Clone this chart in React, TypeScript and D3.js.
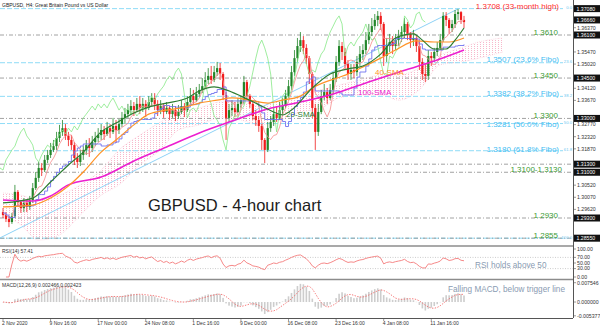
import React from "react";
import * as d3 from "d3";

// ---------- DATA ----------
const firstOpen = 1.2952;
const closes = [
  1.2941, 1.2926, 1.2915, 1.2937, 1.3027, 1.2989, 1.2967, 1.2986, 1.2971, 1.2997,
  1.3041, 1.3079, 1.3116, 1.3108, 1.3146, 1.3164, 1.3183, 1.3197, 1.3227, 1.3250,
  1.3264, 1.3235, 1.3220, 1.3201, 1.3153, 1.3138, 1.3164, 1.3183, 1.3201, 1.3190,
  1.3212, 1.3227, 1.3238, 1.3257, 1.3242, 1.3264, 1.3250, 1.3272, 1.3257, 1.3279,
  1.3302, 1.3316, 1.3331, 1.3346, 1.3331, 1.3354, 1.3339, 1.3354, 1.3339, 1.3361,
  1.3376, 1.3354, 1.3331, 1.3346, 1.3324, 1.3339, 1.3316, 1.3331, 1.3309, 1.3324,
  1.3346, 1.3331, 1.3361, 1.3383, 1.3368, 1.3391, 1.3406, 1.3420, 1.3443, 1.3458,
  1.3443, 1.3472, 1.3487, 1.3465, 1.3387, 1.3302, 1.3331, 1.3339, 1.3324, 1.3354,
  1.3368, 1.3435, 1.3383, 1.3354, 1.3309, 1.3294, 1.3272, 1.3220, 1.3183, 1.3264,
  1.3287, 1.3316, 1.3302, 1.3331, 1.3346, 1.3383, 1.3420, 1.3472, 1.3524, 1.3569,
  1.3591, 1.3562, 1.3524, 1.3465, 1.3339, 1.3250, 1.3324, 1.3383, 1.3398, 1.3376,
  1.3406, 1.3450, 1.3510, 1.3569, 1.3547, 1.3502, 1.3465, 1.3480, 1.3472, 1.3510,
  1.3539, 1.3554, 1.3591, 1.3621, 1.3643, 1.3666, 1.3681, 1.3651, 1.3532, 1.3569,
  1.3584, 1.3569, 1.3591, 1.3606, 1.3621, 1.3651, 1.3614, 1.3591, 1.3599, 1.3569,
  1.3510, 1.3465, 1.3458, 1.3532, 1.3524, 1.3547, 1.3562, 1.3591, 1.3681, 1.3666,
  1.3636, 1.3651, 1.3688, 1.3695, 1.3666, 1.3658,
];
const highs = [
  1.2967, 1.2952, 1.2937, 1.2949, 1.3053, 1.3034, 1.2997, 1.3004, 1.2997, 1.3012,
  1.3060, 1.3101, 1.3138, 1.3134, 1.3164, 1.3183, 1.3209, 1.3220, 1.3250, 1.3276,
  1.3294, 1.3279, 1.3250, 1.3238, 1.3212, 1.3171, 1.3183, 1.3197, 1.3220, 1.3227,
  1.3235, 1.3250, 1.3264, 1.3279, 1.3272, 1.3287, 1.3279, 1.3302, 1.3294, 1.3298,
  1.3324, 1.3339, 1.3354, 1.3368, 1.3361, 1.3376, 1.3383, 1.3376, 1.3368, 1.3383,
  1.3394, 1.3394, 1.3368, 1.3368, 1.3354, 1.3361, 1.3346, 1.3354, 1.3346, 1.3350,
  1.3368, 1.3357, 1.3383, 1.3413, 1.3406, 1.3417, 1.3428, 1.3450, 1.3472, 1.3487,
  1.3495, 1.3495, 1.3510, 1.3506, 1.3472, 1.3398, 1.3354, 1.3368, 1.3361, 1.3376,
  1.3383, 1.3458, 1.3443, 1.3391, 1.3361, 1.3331, 1.3309, 1.3279, 1.3227, 1.3287,
  1.3309, 1.3339, 1.3346, 1.3361, 1.3376, 1.3406, 1.3443, 1.3495, 1.3554, 1.3599,
  1.3621, 1.3606, 1.3576, 1.3532, 1.3472, 1.3354, 1.3354, 1.3406, 1.3428, 1.3413,
  1.3428, 1.3472, 1.3532, 1.3591, 1.3584, 1.3562, 1.3517, 1.3502, 1.3502, 1.3532,
  1.3569, 1.3576, 1.3621, 1.3651, 1.3673, 1.3688, 1.3699, 1.3695, 1.3658, 1.3599,
  1.3614, 1.3606, 1.3614, 1.3629, 1.3643, 1.3673, 1.3658, 1.3621, 1.3629, 1.3606,
  1.3584, 1.3524, 1.3502, 1.3554, 1.3547, 1.3562, 1.3584, 1.3614, 1.3695, 1.3695,
  1.3673, 1.3666, 1.3703, 1.3707, 1.3699, 1.3681,
];
const lows = [
  1.2930, 1.2915, 1.2896, 1.2908, 1.2930, 1.2975, 1.2949, 1.2952, 1.2952, 1.2960,
  1.2986, 1.3034, 1.3064, 1.3086, 1.3101, 1.3134, 1.3153, 1.3175, 1.3183, 1.3212,
  1.3235, 1.3220, 1.3197, 1.3183, 1.3127, 1.3116, 1.3123, 1.3146, 1.3164, 1.3157,
  1.3175, 1.3197, 1.3212, 1.3220, 1.3220, 1.3235, 1.3227, 1.3242, 1.3209, 1.3242,
  1.3268, 1.3279, 1.3302, 1.3316, 1.3309, 1.3324, 1.3316, 1.3324, 1.3305, 1.3331,
  1.3346, 1.3331, 1.3309, 1.3316, 1.3302, 1.3316, 1.3294, 1.3302, 1.3290, 1.3298,
  1.3316, 1.3305, 1.3324, 1.3354, 1.3354, 1.3361, 1.3380, 1.3394, 1.3413, 1.3428,
  1.3428, 1.3435, 1.3458, 1.3443, 1.3368, 1.3220, 1.3287, 1.3309, 1.3305, 1.3320,
  1.3339, 1.3354, 1.3368, 1.3339, 1.3294, 1.3272, 1.3250, 1.3183, 1.3134, 1.3175,
  1.3250, 1.3272, 1.3287, 1.3294, 1.3316, 1.3339, 1.3376, 1.3406, 1.3458, 1.3510,
  1.3547, 1.3539, 1.3502, 1.3428, 1.3302, 1.3183, 1.3235, 1.3316, 1.3368, 1.3354,
  1.3368, 1.3391, 1.3435, 1.3495, 1.3517, 1.3480, 1.3443, 1.3443, 1.3450, 1.3458,
  1.3495, 1.3517, 1.3539, 1.3576, 1.3606, 1.3629, 1.3643, 1.3629, 1.3495, 1.3510,
  1.3547, 1.3539, 1.3554, 1.3569, 1.3584, 1.3599, 1.3591, 1.3562, 1.3569, 1.3547,
  1.3480, 1.3443, 1.3435, 1.3443, 1.3495, 1.3510, 1.3532, 1.3554, 1.3584, 1.3643,
  1.3614, 1.3621, 1.3636, 1.3666, 1.3651, 1.3636,
];

// moving averages: [bar, price]
const sma20: [number, number][] = [
  [0, 1.2986], [10, 1.3004], [16, 1.3064], [22, 1.3127], [27, 1.3175], [33, 1.3250],
  [38, 1.3283], [44, 1.3320], [49, 1.3342], [55, 1.3357], [62, 1.3376], [66, 1.3402],
  [71, 1.3417], [75, 1.3406], [80, 1.3383], [85, 1.3357], [91, 1.3324], [94, 1.3313],
  [97, 1.3331], [104, 1.3413], [110, 1.3465], [116, 1.3484], [121, 1.3495], [127, 1.3539],
  [132, 1.3599], [138, 1.3614], [141, 1.3591], [145, 1.3558], [149, 1.3558], [152, 1.3591],
  [155, 1.3636],
];
const sma40: [number, number][] = [
  [0, 1.2971], [10, 1.2978], [16, 1.3004], [22, 1.3049], [27, 1.3101], [33, 1.3175],
  [38, 1.3220], [44, 1.3276], [49, 1.3316], [55, 1.3331], [60, 1.3339], [66, 1.3357],
  [72, 1.3368], [77, 1.3376], [83, 1.3368], [89, 1.3357], [94, 1.3368], [100, 1.3383],
  [104, 1.3413], [116, 1.3465], [121, 1.3491], [127, 1.3524], [132, 1.3554], [139, 1.3588],
  [145, 1.3584], [150, 1.3584], [155, 1.3599],
];
const sma100: [number, number][] = [
  [0, 1.2997], [10, 1.2993], [16, 1.3012], [22, 1.3053], [33, 1.3082], [44, 1.3142],
  [55, 1.3194], [66, 1.3246], [77, 1.3290], [89, 1.3335], [100, 1.3361], [111, 1.3391],
  [122, 1.3432], [133, 1.3472], [145, 1.3513], [155, 1.3554],
];
// Ichimoku cloud spans: [bar, price]
const spanA: [number, number][] = [
  [0, 1.3023], [6, 1.3015], [12, 1.2997], [19, 1.3015], [26, 1.3053], [33, 1.3108],
  [39, 1.3183], [46, 1.3238], [53, 1.3287], [59, 1.3324], [66, 1.3339], [73, 1.3361],
  [80, 1.3361], [86, 1.3346], [93, 1.3368], [100, 1.3387], [107, 1.3406], [113, 1.3424],
  [120, 1.3443], [127, 1.3461], [133, 1.3461], [140, 1.3487], [147, 1.3536], [154, 1.3562],
  [160, 1.3584], [168, 1.3599],
];
const spanB: [number, number][] = [
  [0, 1.2941], [6, 1.2904], [12, 1.2848], [19, 1.2867], [26, 1.2941], [33, 1.3015],
  [39, 1.3053], [46, 1.3127], [53, 1.3183], [59, 1.3257], [66, 1.3276], [73, 1.3302],
  [80, 1.3294], [86, 1.3276], [93, 1.3294], [100, 1.3324], [107, 1.3339], [113, 1.3376],
  [120, 1.3387], [127, 1.3387], [133, 1.3368], [140, 1.3406], [147, 1.3499], [154, 1.3510],
  [160, 1.3524], [168, 1.3547],
];
const trendBars = [-1, 153];
const trendPrices = [1.2856, 1.3707];

const fibLevels = ["0.0", "23.6", "38.2", "50.0", "61.8", "100.0"];
const fibPrices = [1.3708, 1.3507, 1.3382, 1.3281, 1.3180, 1.2855];
const srPrices = [1.3610, 1.3450, 1.3300, 1.3130, 1.3100, 1.2930, 1.2855];
const srLabels = ["1.3610", "1.3450", "1.3300", "1.3100-1.3130", "1.2930", "1.2855"];
const srLabelPrices = [1.3610, 1.3450, 1.3300, 1.3100, 1.2930, 1.2855];
const boxPrices = [1.3708, 1.3666, 1.3610, 1.3450, 1.3300, 1.3130, 1.3100, 1.2930, 1.2855];

const priceTicks = [
  1.3727, 1.3682, 1.3637, 1.3592, 1.3547, 1.3502, 1.3457, 1.3412, 1.3367, 1.3322,
  1.3277, 1.3232, 1.3187, 1.3142, 1.3097, 1.3052, 1.3007, 1.2962, 1.2917, 1.2872,
];
const timeLabels = [
  "2 Nov 2020", "9 Nov 16:00", "17 Nov 00:00", "24 Nov 08:00", "1 Dec 16:00",
  "9 Dec 00:00", "16 Dec 08:00", "23 Dec 16:00", "4 Jan 08:00", "11 Jan 16:00",
];
const rsiTicks = [100, 70, 50, 30, 0];
const macdTicks = [0.007546, 0, -0.005377];

// ---------- indicator helpers ----------
function midWindow(n: number) {
  return closes.map((_, i) => {
    const s = Math.max(0, i - n + 1);
    const hi = d3.max(highs.slice(s, i + 1)) as number;
    const lo = d3.min(lows.slice(s, i + 1)) as number;
    return [i, (hi + lo) / 2] as [number, number];
  });
}
function rsiSeries(n: number) {
  const out: [number, number][] = [];
  let ag = 0, al = 0;
  for (let i = 1; i < closes.length; i++) {
    const d = closes[i] - closes[i - 1];
    const g = Math.max(d, 0), l = Math.max(-d, 0);
    const k = Math.min(i, n);
    ag = (ag * (k - 1) + g) / k;
    al = (al * (k - 1) + l) / k;
    out.push([i, al === 0 ? 100 : 100 - 100 / (1 + ag / al)]);
  }
  return out;
}
function ema(vals: number[], n: number) {
  const a = 2 / (n + 1);
  const out: number[] = [];
  vals.forEach((v, i) => out.push(i === 0 ? v : a * v + (1 - a) * out[i - 1]));
  return out;
}

export default function App() {
  const N = closes.length;
  const x = d3.scaleLinear().domain([0, N - 1]).range([3, 464]);
  const y = d3.scaleLinear().domain([1.361, 1.293]).range([35, 218]);
  const yR = d3.scaleLinear().domain([0, 100]).range([277, 249]);
  const yM = d3.scaleLinear().domain([-0.005377, 0.007546]).range([315.8, 282.7]);

  const line = d3.line<[number, number]>().x((d) => x(d[0])).y((d) => y(d[1]));
  const smooth = d3.line<[number, number]>().x((d) => x(d[0])).y((d) => y(d[1])).curve(d3.curveMonotoneX);
  const area = d3
    .area<number>()
    .x((i) => x(spanA[i][0]))
    .y0((i) => y(spanB[i][1]))
    .y1((i) => y(spanA[i][1]))
    .curve(d3.curveMonotoneX);

  const tenkan = midWindow(5);
  const kijun = midWindow(13);
  const chikou: [number, number][] = closes.map((c, i) => [i - 13, c]);
  const rsi = rsiSeries(10);
  const fast = ema(closes, 6);
  const slow = ema(closes, 13);
  const macd = closes.map((_, i) => fast[i] - slow[i]);
  const signal: [number, number][] = macd.map((_, i) => {
    const s = Math.max(0, i - 4);
    return [i, d3.mean(macd.slice(s, i + 1)) as number];
  });

  const font = "'Liberation Sans', Arial, sans-serif";
  const fibLabel = (i: number) =>
    i === 0 ? "1.3708 (33-month high)" : `${fibPrices[i].toFixed(4)} (${fibLevels[i]}% Fibo)`;
  const fibOffsets = [0.5, -0.5, -0.5, 3, 1, 0];
  // hide axis ticks that sit under a black price box
  const visibleTicks = priceTicks.filter((p) => boxPrices.every((b) => Math.abs(y(b) - y(p)) > 6));

  return (
    <svg
      width={600}
      height={327}
      style={{ position: "fixed", left: 0, top: 0, background: "#fff" }}
      fontFamily={font}
    >
      <defs>
        <clipPath id="mainClip">
          <rect x={0} y={0} width={573} height={245} />
        </clipPath>
        <clipPath id="subClip">
          <rect x={0} y={247} width={573} height={71} />
        </clipPath>
        <pattern id="dots" width={3} height={2} patternUnits="userSpaceOnUse">
          <rect width={1} height={1} fill="#f7b8cb" />
        </pattern>
      </defs>
      <rect x={0} y={0} width={600} height={327} fill="#fff" />

      <g clipPath="url(#mainClip)">
        {/* cloud */}
        <path d={area(d3.range(spanA.length)) || ""} fill="url(#dots)" />
        <path d={smooth(spanA) || ""} fill="none" stroke="#f9c6d5" strokeWidth={0.6} strokeDasharray="1,1" />
        <path d={smooth(spanB) || ""} fill="none" stroke="#f9c6d5" strokeWidth={0.6} strokeDasharray="1,1" />

        {/* fib lines */}
        {fibPrices.map((p, i) => (
          <line key={"f" + i} x1={0} x2={563} y1={y(p)} y2={y(p)} stroke="#8fdcf7" strokeWidth={1} strokeDasharray="5,2" />
        ))}
        {/* support / resistance */}
        {srPrices.map((p, i) => (
          <line key={"s" + i} x1={0} x2={573} y1={y(p)} y2={y(p)} stroke="#8a8a8a" strokeWidth={0.8} strokeDasharray="4,2,1,2" />
        ))}
        {/* trend line */}
        <line x1={x(trendBars[0])} y1={y(trendPrices[0])} x2={x(trendBars[1])} y2={y(trendPrices[1])} stroke="#8ed2f6" strokeWidth={1} />

        {/* candles */}
        {closes.map((c, i) => {
          const o = i === 0 ? firstOpen : closes[i - 1];
          const up = c >= o;
          const col = up ? "#23862a" : "#f01c1c";
          const top = y(Math.max(o, c));
          const h = Math.max(0.8, Math.abs(y(o) - y(c)));
          return (
            <g key={"c" + i}>
              <line x1={x(i)} x2={x(i)} y1={y(highs[i])} y2={y(lows[i])} stroke={col} strokeWidth={0.8} />
              <rect x={x(i) - 1.1} y={top} width={2.2} height={h} fill={col} />
            </g>
          );
        })}

        {/* ichimoku lines */}
        <path d={line(chikou) || ""} fill="none" stroke="#86e886" strokeWidth={0.8} />
        <path d={line(tenkan) || ""} fill="none" stroke="#f58a8a" strokeWidth={0.8} />
        <path d={d3.line<[number, number]>().x((d) => x(d[0])).y((d) => y(d[1])).curve(d3.curveStepAfter)(kijun) || ""} fill="none" stroke="#6f72ee" strokeWidth={0.9} />

        {/* SMAs */}
        <path d={smooth(sma100) || ""} fill="none" stroke="#ec1fd0" strokeWidth={1.6} />
        <path d={smooth(sma40) || ""} fill="none" stroke="#ff9326" strokeWidth={1.2} />
        <path d={smooth(sma20) || ""} fill="none" stroke="#2e7d32" strokeWidth={1.2} />
      </g>

      {/* labels main */}
      <text x={2} y={6.5} fontSize={5} fill="#222">GBPUSD, H4:  Great Britain Pound vs US Dollar</text>
      <text x={148} y={211} fontSize={16.5} fill="#1c1c1c">GBPUSD - 4-hour chart</text>
      <text x={286} y={117} fontSize={8} fill="#2e7d32">20-SMA</text>
      <text x={375} y={75} fontSize={8} fill="#ff9326">40-SMA</text>
      <text x={358} y={95} fontSize={8} fill="#ec1fd0">100-SMA</text>

      {fibPrices.map((p, i) =>
        i === 5 ? null : (
          <text key={"fl" + i} x={559} y={y(p) + fibOffsets[i]} fontSize={8} textAnchor="end" fill={i === 0 ? "#ff2d2d" : "#3fbdf2"}>
            {fibLabel(i)}
          </text>
        )
      )}
      {fibPrices.map((p, i) => (
        <text key={"fs" + i} x={572} y={y(p) + 0.5} fontSize={4.2} textAnchor="end" fill="#6cc8f0">
          {fibLevels[i]}
        </text>
      ))}
      {srLabels.map((t, i) => (
        <text key={"sl" + i} x={i === 3 ? 562 : 558} y={y(srLabelPrices[i]) - 0.5} fontSize={8} textAnchor="end" fill="#3d9b35">
          {t}
        </text>
      ))}

      {/* right axis */}
      <line x1={573.5} x2={573.5} y1={0} y2={318} stroke="#555" strokeWidth={1} />
      {visibleTicks.map((p, i) => (
        <g key={"pt" + i}>
          <line x1={573} x2={576} y1={y(p)} y2={y(p)} stroke="#555" strokeWidth={0.6} />
          <text x={577} y={y(p) + 1.8} fontSize={5.2} fill="#333">{p.toFixed(5)}</text>
        </g>
      ))}
      {boxPrices.map((p, i) => (
        <g key={"bx" + i}>
          <rect x={574} y={y(p) - 3.5} width={26} height={7} fill="#111" />
          <text x={576.5} y={y(p) + 1.9} fontSize={5.2} fill="#fff">{p.toFixed(5)}</text>
        </g>
      ))}

      {/* panel separators */}
      <line x1={0} x2={573} y1={246} y2={246} stroke="#8c8c8c" strokeWidth={1.6} />
      <line x1={0} x2={573} y1={279.5} y2={279.5} stroke="#8c8c8c" strokeWidth={1.6} />
      <line x1={0} x2={573} y1={318.5} y2={318.5} stroke="#555" strokeWidth={1} />

      {/* RSI */}
      <g clipPath="url(#subClip)">
        {[70, 30].map((v) => (
          <line key={"rl" + v} x1={0} x2={573} y1={yR(v)} y2={yR(v)} stroke="#aaa" strokeWidth={0.6} strokeDasharray="1,1.5" />
        ))}
        <path d={d3.line<[number, number]>().x((d) => x(d[0])).y((d) => yR(d[1]))(rsi) || ""} fill="none" stroke="#f47b7b" strokeWidth={0.9} />
      </g>
      <text x={2} y={253} fontSize={5} fill="#333">RSI(14) 57.41</text>
      <text x={475} y={268} fontSize={8.2} fill="#8a9bb2">RSI holds above 50</text>
      {rsiTicks.map((v) => (
        <g key={"rt" + v}>
          <line x1={573} x2={576} y1={yR(v)} y2={yR(v)} stroke="#555" strokeWidth={0.6} />
          <text x={577} y={yR(v) + 1.8} fontSize={5.2} fill="#333">{v.toFixed(2)}</text>
        </g>
      ))}

      {/* MACD */}
      <g clipPath="url(#subClip)">
        {macd.map((m, i) => (
          <rect key={"m" + i} x={x(i) - 0.8} width={1.6} y={Math.min(yM(m), yM(0))} height={Math.max(0.3, Math.abs(yM(m) - yM(0)))} fill="#cdcdcd" />
        ))}
        <path d={d3.line<[number, number]>().x((d) => x(d[0])).y((d) => yM(d[1]))(signal) || ""} fill="none" stroke="#f25a5a" strokeWidth={0.8} strokeDasharray="1.4,1.4" />
      </g>
      <text x={2} y={286.5} fontSize={5} fill="#333">MACD(12,26,9) 0.002466 0.002423</text>
      <text x={448} y={292} fontSize={8.2} fill="#8a9bb2">Falling MACD, below trigger line</text>
      {macdTicks.map((v) => (
        <g key={"mt" + v}>
          <line x1={573} x2={576} y1={yM(v)} y2={yM(v)} stroke="#555" strokeWidth={0.6} />
          <text x={577} y={yM(v) + 1.8} fontSize={5.2} fill="#333">{v.toFixed(6)}</text>
        </g>
      ))}

      {/* time axis */}
      {timeLabels.map((t, k) => (
        <g key={"tl" + k}>
          <line x1={x(k * 16)} x2={x(k * 16)} y1={318} y2={321} stroke="#555" strokeWidth={0.6} />
          <text x={x(k * 16) - 1} y={324.5} fontSize={5} fill="#333">{t}</text>
        </g>
      ))}
    </svg>
  );
}
